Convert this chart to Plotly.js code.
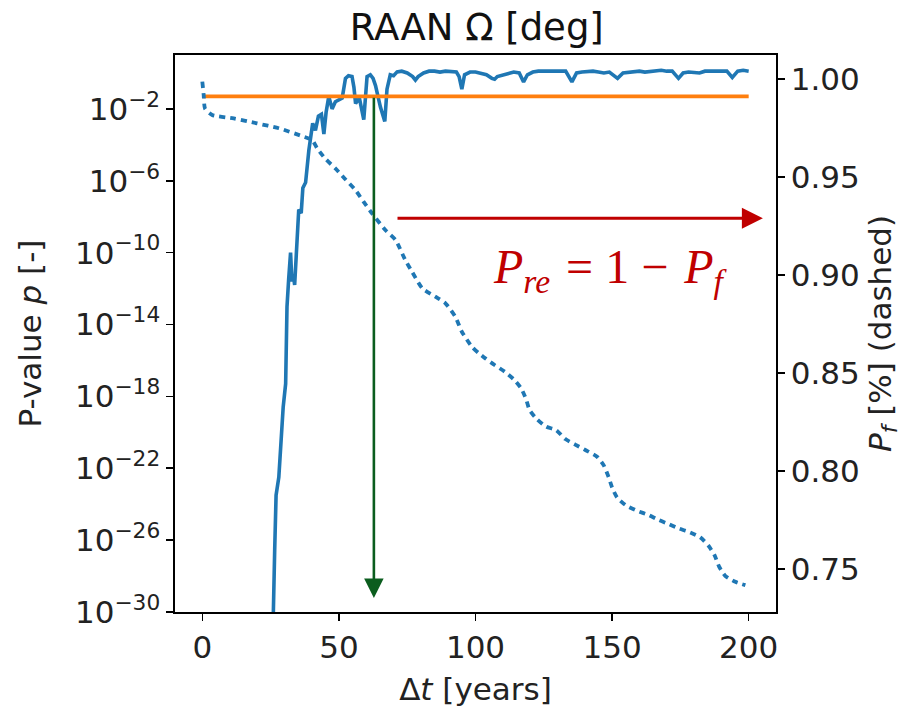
<!DOCTYPE html>
<html>
<head>
<meta charset="utf-8">
<script src="https://cdn.plot.ly/plotly-3.0.1.min.js"></script>
<style>html,body{margin:0;padding:0;background:#fff;}#chart{width:910px;height:714px;}</style>
</head>
<body>
<div id="chart"></div>
<script>
// ---- data ----
// Solid line: p-value (left log axis), stored as log10(p)
const tP = [25.5,26,26.5,27,28,29,29.6,30.5,31,31.6,32.3,32.8,33.3,33.8,34.3,35.3,36.2,36.8,37.8,39,40.4,41.4,42.5,43.6,44.5,45.3,46.3,47.5,48.7,50,51.2,52.4,53.5,54.8,55.5,56.1,57.5,58.3,59.1,60.3,61.5,62.5,63.4,64.3,65.2,66.8,67.6,68.8,70,71.3,73,75,77,78,79,81,83,85,87,89,91,93,94,95,96,98,100,102,104,106,107,108,110,112,114,116,117.6,119,121,123,125,127,129,131,133,135.3,137,139,141,143,145,147,149,152,154,156,158,160,162,164,166,168,170,172,174.3,176,178,180,182,184,186,188,190,192,194,196,198,200];
const logP = [-32,-30,-26.5,-23.5,-22.5,-20,-18.6,-17.3,-13,-11.5,-10,-11.6,-11.2,-11.8,-10.3,-7.6,-7.8,-6.4,-6.1,-4.3,-2.8,-3.2,-2.4,-2.3,-3.4,-2.2,-1.3,-2.0,-1.6,-1.5,-1.4,-0.3,-0.15,-0.2,-0.8,-1.7,-1.4,-2.0,-2.6,-0.2,-0.1,-0.3,-0.7,-1.3,-1.9,-2.7,-0.9,-0.1,-0.15,0.06,0.1,0.0,-0.2,-0.4,-0.2,0.0,0.1,0.1,0.05,0.1,0.1,0.05,-0.2,-0.9,-0.1,0.05,0.05,0.0,-0.1,-0.3,-0.35,-0.2,-0.1,0.0,0.05,0.0,-0.5,-0.1,0.05,0.1,0.1,0.05,0.1,0.05,0.1,-0.5,0.0,0.05,0.1,0.1,0.05,0.0,0.05,-0.3,0.0,0.05,0.1,0.1,0.05,0.1,0.1,0.15,0.1,0.1,-0.3,0.0,0.05,0.05,0.0,0.1,0.1,0.05,0.1,0.1,-0.25,0.1,0.15,0.1];

// Dotted line: P_f (right axis)
const tPf = [0,0.5,1,3.6,11.5,20,28,36.5,40.2,42,45,48.7,52,56,59,62.1,67,70.7,74.3,76.8,80.5,85.3,89,92.6,95,98.7,101,103.6,107,110.7,114,116.7,118.5,119.8,122.5,125.9,129.5,132.9,136.5,140.2,144.5,146.9,148.7,150,151.8,154.9,159.1,163.4,167,170.7,174.3,178.6,182.3,185.3,187.5,189.2,191.4,195.1,198.8];
const Pf  = [0.9988,0.992,0.985,0.9818,0.980,0.9775,0.975,0.971,0.969,0.9648,0.9595,0.9545,0.9495,0.9435,0.9375,0.9316,0.923,0.918,0.9077,0.9017,0.8933,0.889,0.8856,0.8788,0.8711,0.8634,0.8604,0.8575,0.8541,0.8507,0.8468,0.8422,0.8367,0.8311,0.8264,0.8226,0.8209,0.8163,0.8135,0.8107,0.8073,0.803,0.797,0.7916,0.7865,0.7826,0.7797,0.7775,0.775,0.7729,0.7707,0.7686,0.7661,0.7618,0.757,0.7511,0.7465,0.7434,0.7417];

// Threshold (orange)
const tThr = [0, 200];
const pThr = [0.05, 0.05];

// Tick labels
const xTicks = [0, 50, 100, 150, 200];
const yExps = [-30, -26, -22, -18, -14, -10, -6, -2];
const y2Ticks = [0.75, 0.80, 0.85, 0.90, 0.95, 1.00];

// Annotation anchors
const crossT = 62.8;     // where arrow drops
const arrowY2 = 0.929;   // level of red arrow
// ---------------------------------------

const pVals = logP.map(e => Math.pow(10, e));
const FONT = "DejaVu Sans, sans-serif";

const traces = [
  {x: tP, y: pVals, type: 'scatter', mode: 'lines', yaxis: 'y',
   line: {color: '#1f77b4', width: 3.6}, hoverinfo: 'skip'},
  {x: tThr, y: pThr, type: 'scatter', mode: 'lines', yaxis: 'y',
   line: {color: '#ff7f0e', width: 3.6}, hoverinfo: 'skip'},
  {x: tPf, y: Pf, type: 'scatter', mode: 'lines', yaxis: 'y2',
   line: {color: '#1f77b4', width: 3.8, dash: '6px,5px', shape: 'spline', smoothing: 0.6}, hoverinfo: 'skip'}
];

const axisCommon = {
  showline: true, linecolor: '#000', linewidth: 1.6,
  ticks: 'outside', ticklen: 7, tickwidth: 1.6, tickcolor: '#000',
  showgrid: false, zeroline: false,
  tickfont: {family: FONT, size: 31, color: '#222'}
};

const layout = {
  width: 910, height: 714,
  margin: {l: 175, r: 134, t: 55, b: 102},
  paper_bgcolor: '#fff', plot_bgcolor: '#fff',
  showlegend: false,
  font: {family: FONT, color: '#222'},
  title: {text: 'RAAN Ω [deg]', font: {family: FONT, size: 37, color: '#111'},
          x: 0.524, xref: 'container', xanchor: 'center', y: 0.962, yref: 'container', yanchor: 'middle'},
  xaxis: Object.assign({}, axisCommon, {
    range: [-10, 210], tickvals: xTicks, ticktext: xTicks.map(String), mirror: true,
    title: {text: 'Δ<i>t</i> [years]', font: {family: FONT, size: 31, color: '#222'}, standoff: 14}
  }),
  yaxis: Object.assign({}, axisCommon, {
    type: 'log', range: [-30, 1],
    tickvals: yExps.map(e => Math.pow(10, e)),
    ticktext: yExps.map(e => '10<sup>−' + Math.abs(e) + '</sup>'),
    title: {text: 'P-value <i>p</i> [-]', font: {family: FONT, size: 31, color: '#222'}, standoff: 24}
  }),
  yaxis2: Object.assign({}, axisCommon, {
    overlaying: 'y', side: 'right', range: [0.728, 1.0124],
    tickvals: y2Ticks, ticktext: y2Ticks.map(v => v.toFixed(2)),
    title: {text: '<i>P<sub>f</sub></i> [%] (dashed)', font: {family: FONT, size: 31, color: '#222'}, standoff: 10}
  }),
  annotations: [
    {x: crossT, y: -29.22, xref: 'x', yref: 'y', ax: crossT, ay: Math.log10(pThr[0]), axref: 'x', ayref: 'y',
     showarrow: true, arrowhead: 2, arrowsize: 1.5, arrowwidth: 2.6, arrowcolor: '#0b5d1e', text: '', standoff: 0},
    {x: 205.2, y: arrowY2, xref: 'x', yref: 'y2', ax: 70.9, ay: arrowY2, axref: 'x', ayref: 'y2',
     showarrow: true, arrowhead: 2, arrowsize: 1.4, arrowwidth: 3, arrowcolor: '#c00000', text: '', standoff: 0},
    {x: 149.3, y: 0.9026, xref: 'x', yref: 'y2', showarrow: false,
     text: '<i>P<sub>re</sub></i>\u200A = 1 − \u200A<i>P<sub>f</sub></i>',
     font: {family: 'Liberation Serif, serif', size: 48, color: '#c00000'}}
  ]
};

Plotly.newPlot('chart', traces, layout, {staticPlot: true, displayModeBar: false});
</script>
</body>
</html>
